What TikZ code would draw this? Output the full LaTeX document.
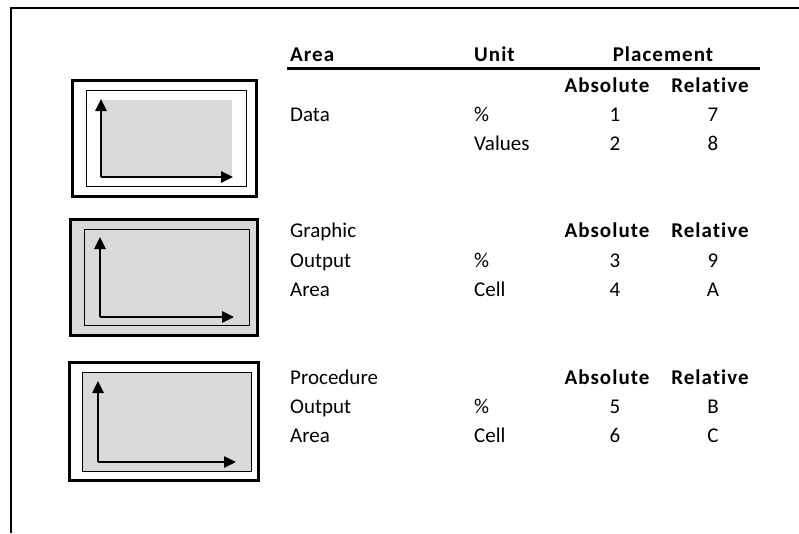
\documentclass[tikz,border=0pt]{standalone}
\usepackage{fontspec}
\setmainfont{Carlito}[Ligatures=NoCommon, BoldFeatures={LetterSpace=5}]
\usetikzlibrary{arrows.meta}
\definecolor{panelgray}{RGB}{217,217,217}
\tikzset{
  txt/.style={font=\fontsize{21}{24}\selectfont, inner sep=0pt},
  lefttxt/.style={txt, anchor=base west},
  numtxt/.style={txt, anchor=base},
  headtxt/.style={txt, font=\fontsize{21}{24}\selectfont\bfseries},
  outerbox/.style={line width=3pt, draw=black},
  innerbox/.style={line width=1pt, draw=black},
  axis/.style={line width=2.5pt, -{Triangle[length=12pt,width=11pt]}},
}
\begin{document}
\begin{tikzpicture}[x=1pt,y=-1pt]
\useasboundingbox (0,0) rectangle (799,533);
% frame
\draw[line width=2pt] (799,7.5) -- (11,7.5) -- (11,533);

% box 1
\draw[outerbox, fill=white] (72,80.5) rectangle (256,196.5);
\draw[innerbox] (86,90.5) rectangle (246,186.5);
\fill[panelgray] (101,100) rectangle (232,177);
\coordinate (o1) at (101,177);
\coordinate (y1) at (101,99);
\coordinate (x1) at (233,177);
\draw[axis] (o1) -- (y1);
\draw[axis] (o1) -- (x1);

% box 2
\draw[outerbox, fill=panelgray] (70,219) rectangle (257,335);
\draw[innerbox] (84,229) rectangle (249,325);
\coordinate (o2) at (100,317);
\coordinate (y2) at (100,237);
\coordinate (x2) at (234,317);
\draw[axis] (o2) -- (y2);
\draw[axis] (o2) -- (x2);

% box 3
\draw[outerbox, fill=white] (69,362) rectangle (258,480);
\draw[innerbox, fill=panelgray] (82,372) rectangle (251,471);
\coordinate (o3) at (98,462);
\coordinate (y3) at (98,381);
\coordinate (x3) at (236,462);
\draw[axis] (o3) -- (y3);
\draw[axis] (o3) -- (x3);

% header
\node[headtxt, anchor=base west] (hArea) at (290,61) {Area};
\node[headtxt, anchor=base west] (hUnit) at (474,61) {Unit};
\node[headtxt, anchor=base] (hPlace) at (663,61) {Placement};
\draw[line width=3.5pt] (287,68.5) -- (760,68.5);

% section 1
\node[headtxt, anchor=base] (abs1) at (607,92) {Absolute};
\node[headtxt, anchor=base] (rel1) at (710,92) {Relative};
\node[lefttxt] (data) at (290,121) {Data};
\node[lefttxt] (pct1) at (474,121) {\%};
\node[numtxt] (n1) at (615,121) {1};
\node[numtxt] (n7) at (713,121) {7};
\node[lefttxt] (vals) at (474,150) {Values};
\node[numtxt] (n2) at (615,150) {2};
\node[numtxt] (n8) at (713,150) {8};

% section 2
\node[lefttxt] (graphic) at (290,237) {Graphic};
\node[headtxt, anchor=base] (abs2) at (607,237) {Absolute};
\node[headtxt, anchor=base] (rel2) at (710,237) {Relative};
\node[lefttxt] (out2) at (290,267) {Output};
\node[lefttxt] (pct2) at (474,267) {\%};
\node[numtxt] (n3) at (615,267) {3};
\node[numtxt] (n9) at (713,267) {9};
\node[lefttxt] (area2) at (290,296) {Area};
\node[lefttxt] (cell2) at (474,296) {Cell};
\node[numtxt] (n4) at (615,296) {4};
\node[numtxt] (nA) at (713,296) {A};

% section 3
\node[lefttxt] (proc) at (290,384) {Procedure};
\node[headtxt, anchor=base] (abs3) at (607,384) {Absolute};
\node[headtxt, anchor=base] (rel3) at (710,384) {Relative};
\node[lefttxt] (out3) at (290,413) {Output};
\node[lefttxt] (pct3) at (474,413) {\%};
\node[numtxt] (n5) at (615,413) {5};
\node[numtxt] (nB) at (713,413) {B};
\node[lefttxt] (area3) at (290,442) {Area};
\node[lefttxt] (cell3) at (474,442) {Cell};
\node[numtxt] (n6) at (615,442) {6};
\node[numtxt] (nC) at (713,442) {C};
\end{tikzpicture}
\end{document}
